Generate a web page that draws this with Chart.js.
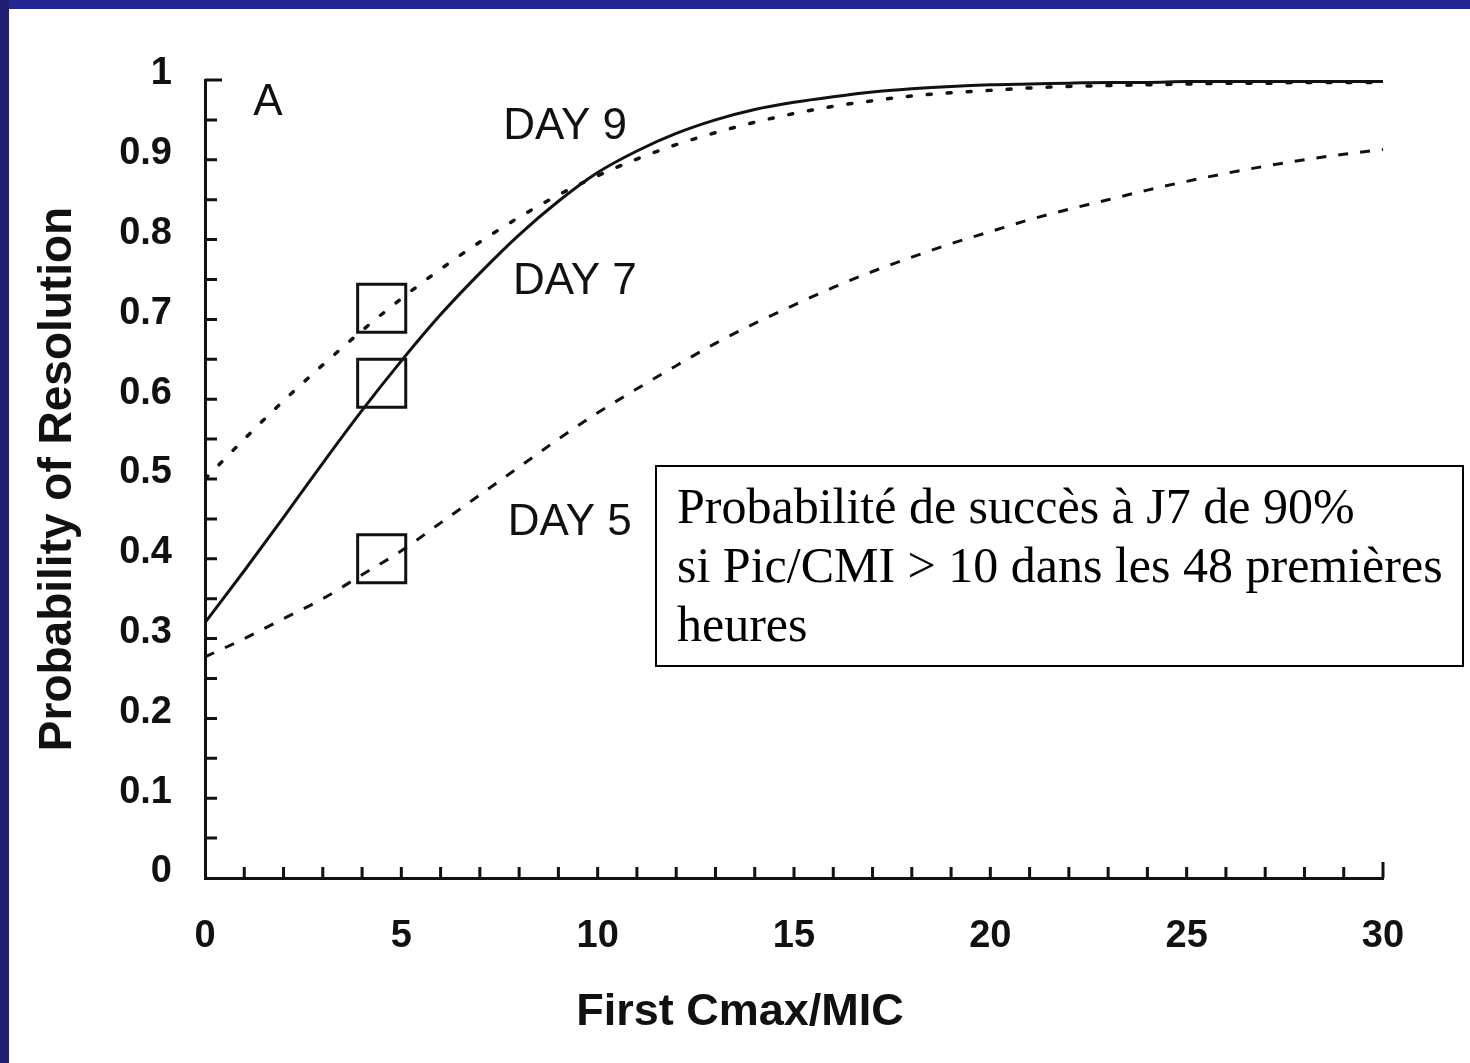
<!DOCTYPE html>
<html lang="fr">
<head>
<meta charset="UTF-8">
<title>Probability of Resolution</title>
<script src="https://cdn.jsdelivr.net/npm/chart.js"></script>
<style>
  body { margin: 0; background: #fff; }
  #wrap { position: relative; width: 1470px; height: 1063px; overflow: hidden; background: #fff; }
  #barTop { position: absolute; left: 0; top: 0; width: 1470px; height: 9px; background: #262693; }
  #barLeft { position: absolute; left: 0; top: 0; width: 9px; height: 1063px; background: #1d1d72; }
  #note {
    position: absolute; left: 655px; top: 465px; width: 785px; height: 198px;
    border: 2px solid #000; background: #fff; padding: 0 0 0 20px;
    font-family: "Liberation Serif", "Times New Roman", serif; font-size: 50px;
    line-height: 59px; color: #000; box-sizing: content-box; white-space: nowrap;
  }
  #note div:first-child { margin-top: 10px; }
</style>
</head>
<body>
<div id="wrap">
  <canvas id="chart" width="1470" height="1063"></canvas>
  <div id="barTop"></div>
  <div id="barLeft"></div>
  <div id="note">
    <div>Probabilité de succès à J7 de 90%</div>
    <div>si Pic/CMI &gt; 10 dans les 48 premières</div>
    <div>heures</div>
  </div>
</div>

<script>
// First Cmax/MIC
const xValues = [0,1,2,3,4,5,6,7,8,9,10,11,12,13,14,15,16,17,18,19,20,21,22,23,24,25,26,27,28,29,30];
// probability of resolution
const day7 = [0.32,0.385,0.452,0.52,0.586,0.648,0.706,0.758,0.806,0.848,0.884,0.911,0.933,0.95,0.963,0.972,0.979,0.985,0.989,0.992,0.994,0.995,0.996,0.997,0.997,0.998,0.998,0.998,0.998,0.998,0.998];
const day9 = [0.50,0.55,0.598,0.643,0.686,0.726,0.763,0.797,0.828,0.856,0.88,0.901,0.919,0.934,0.947,0.958,0.967,0.974,0.98,0.984,0.987,0.99,0.992,0.993,0.994,0.995,0.996,0.996,0.997,0.997,0.997];
const day5 = [0.277,0.30,0.325,0.35,0.38,0.41,0.445,0.48,0.515,0.55,0.583,0.613,0.642,0.67,0.695,0.718,0.74,0.76,0.778,0.795,0.81,0.825,0.838,0.85,0.862,0.873,0.883,0.892,0.9,0.907,0.913];
// observed points (squares)
const boxX = [4.5, 4.5, 4.5];
const boxY = [0.714, 0.62, 0.40];

const xTickLabels = ['0','5','10','15','20','25','30'];
const yTickLabels = ['0','0.1','0.2','0.3','0.4','0.5','0.6','0.7','0.8','0.9','1'];

// curve labels in data coordinates
const curveLabels = [
  { text: 'A', x: 1.6, y: 0.971 },
  { text: 'DAY 9', x: 9.17, y: 0.941 },
  { text: 'DAY 7', x: 9.42, y: 0.747 },
  { text: 'DAY 5', x: 9.29, y: 0.445 }
];

const pts = arr => xValues.map((x, i) => ({ x: x, y: arr[i] }));

const extras = {
  id: 'extras',
  afterDraw(chart) {
    const { ctx, scales: { x, y } } = chart;
    ctx.save();
    ctx.strokeStyle = '#111';
    ctx.lineWidth = 3;
    ctx.beginPath();
    // inward x ticks, every unit
    for (let v = 1; v <= 30; v++) {
      const px = x.getPixelForValue(v);
      ctx.moveTo(px, y.bottom);
      ctx.lineTo(px, y.bottom - (v === 30 ? 16 : 11));
    }
    // inward y ticks, every 0.05
    for (let k = 1; k <= 20; k++) {
      const py = y.getPixelForValue(k * 0.05);
      ctx.moveTo(x.left, py);
      ctx.lineTo(x.left + (k === 20 ? 17 : 12), py);
    }
    ctx.stroke();

    ctx.fillStyle = '#111';
    ctx.font = '44px "Liberation Sans", Arial, sans-serif';
    ctx.textAlign = 'center';
    ctx.textBaseline = 'middle';
    curveLabels.forEach(l => ctx.fillText(l.text, x.getPixelForValue(l.x), y.getPixelForValue(l.y)));

    ctx.font = 'bold 45px "Liberation Sans", Arial, sans-serif';
    ctx.fillText('First Cmax/MIC', 740, 1013);
    ctx.restore();
  }
};

new Chart(document.getElementById('chart'), {
  type: 'line',
  data: {
    datasets: [
      { label: 'Day 9', data: pts(day9), borderColor: '#111', borderWidth: 3.5, borderDash: [4, 16], borderCapStyle: 'round', pointRadius: 0, cubicInterpolationMode: 'monotone' },
      { label: 'Day 7', data: pts(day7), borderColor: '#111', borderWidth: 3, pointRadius: 0, cubicInterpolationMode: 'monotone' },
      { label: 'Day 5', data: pts(day5), borderColor: '#111', borderWidth: 3, borderDash: [10, 12], pointRadius: 0, cubicInterpolationMode: 'monotone' },
      { type: 'scatter', label: 'Observed', data: boxX.map((x, i) => ({ x: x, y: boxY[i] })), pointStyle: 'rect', pointRadius: 34, pointHoverRadius: 34, pointBorderWidth: 3, pointBorderColor: '#111', pointBackgroundColor: 'rgba(0,0,0,0)', showLine: false }
    ]
  },
  options: {
    responsive: false,
    animation: false,
    events: [],
    layout: { padding: { top: 80, right: 87, left: 0, bottom: 0 } },
    plugins: { legend: { display: false }, tooltip: { enabled: false } },
    scales: {
      x: {
        type: 'linear', min: 0, max: 30,
        afterFit: s => { s.height = 185; },
        grid: { display: false, drawTicks: false },
        border: { display: true, color: '#111', width: 3 },
        ticks: {
          stepSize: 5, padding: 36, maxRotation: 0, color: '#111',
          font: { family: '"Liberation Sans", Arial, sans-serif', size: 38, weight: 'bold' },
          callback: (v, i) => xTickLabels[i]
        },
        title: { display: false }
      },
      y: {
        min: 0, max: 1,
        afterFit: s => { s.width = 205; },
        grid: { display: false, drawTicks: false },
        border: { display: true, color: '#111', width: 3 },
        ticks: {
          stepSize: 0.1, padding: 33, labelOffset: -6, color: '#111',
          font: { family: '"Liberation Sans", Arial, sans-serif', size: 38, weight: 'bold' },
          callback: (v, i) => yTickLabels[i]
        },
        title: {
          display: true, text: 'Probability of Resolution', color: '#111',
          padding: { top: 31, bottom: 0 },
          font: { family: '"Liberation Sans", Arial, sans-serif', size: 46, weight: 'bold' }
        }
      }
    }
  },
  plugins: [extras]
});
</script>
</body>
</html>
